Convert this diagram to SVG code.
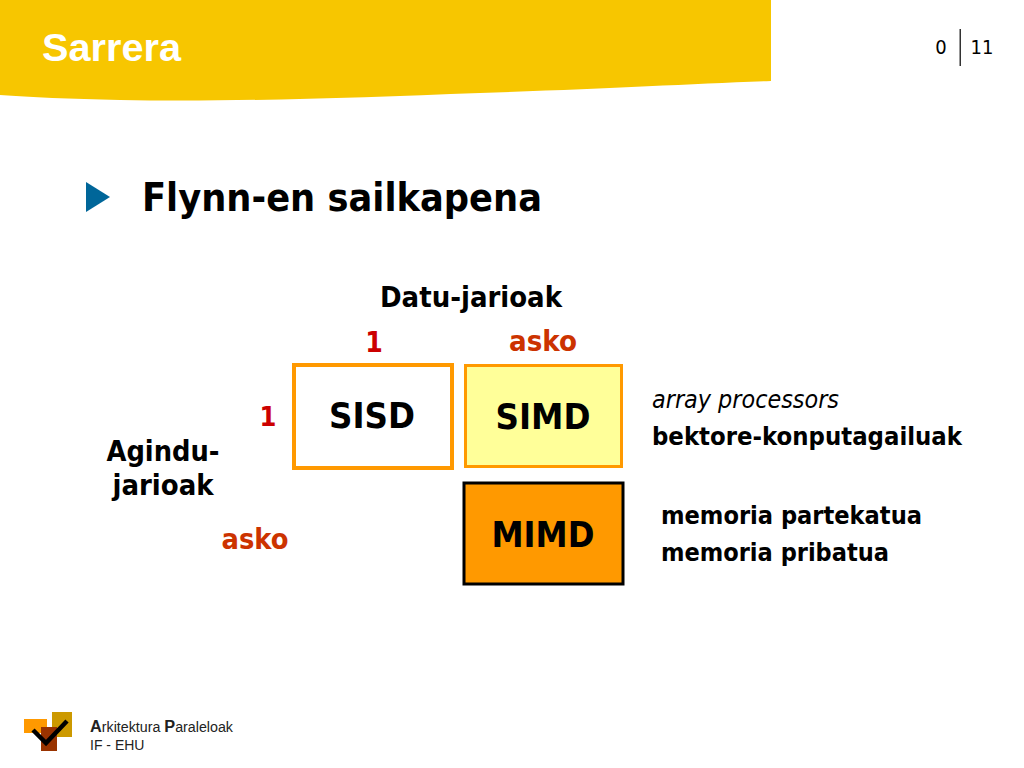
<svg xmlns="http://www.w3.org/2000/svg" width="1024" height="768" viewBox="0 0 1024 768">
<style>
.t{font-family:"DejaVu Sans Condensed","DejaVu Sans",sans-serif;font-stretch:condensed;fill:#000}
.b{font-weight:700}
.r{fill:#cc3300}
.d{fill:#cc0000}
.a{font-family:"Liberation Sans",Arial,sans-serif;fill:#222}
.m{text-anchor:middle}
</style>
<rect width="1024" height="768" fill="#fff"/>
<path d="M0 0H771V81C690 84 600 89 480 93C350 98 230 102 120 100C70 99 30 97 0 95Z" fill="#f7c600"/>
<text x="42" y="61" font-family="Liberation Sans,Arial,sans-serif" font-weight="700" font-size="38" fill="#fff" textLength="139" lengthAdjust="spacingAndGlyphs">Sarrera</text>
<g id="page">
<text class="t" x="941" y="54" font-size="20" text-anchor="middle">0</text>
<rect x="959.500" y="29" width="1.500" height="37" fill="#333"/>
<text class="t" x="982" y="54" font-size="20" text-anchor="middle">11</text>
</g>
<path d="M86 182L110 197L86 212Z" fill="#006699"/>
<text class="t b" x="142" y="211" font-size="39" textLength="400" lengthAdjust="spacingAndGlyphs">Flynn-en sailkapena</text>
<text class="t b m" x="471" y="307" font-size="29" textLength="182" lengthAdjust="spacingAndGlyphs">Datu-jarioak</text>
<text class="t b m d" x="374" y="352" font-size="28">1</text>
<text class="t b m r" x="543" y="351" font-size="29" textLength="68" lengthAdjust="spacingAndGlyphs">asko</text>
<text class="t b m d" x="268" y="426" font-size="27">1</text>
<text class="t b m" x="163" y="461" font-size="29" textLength="113" lengthAdjust="spacingAndGlyphs">Agindu-</text>
<text class="t b m" x="163" y="495" font-size="29" textLength="101" lengthAdjust="spacingAndGlyphs">jarioak</text>
<text class="t b m r" x="255" y="549" font-size="29" textLength="67" lengthAdjust="spacingAndGlyphs">asko</text>
<g id="sisd">
<rect x="294" y="365" width="158" height="103" fill="#fff" stroke="#ff9900" stroke-width="4"/>
<text class="t b m" x="372" y="428" font-size="35" textLength="86" lengthAdjust="spacingAndGlyphs">SISD</text>
</g>
<g id="simd">
<rect x="465.500" y="365.500" width="156" height="101" fill="#ffff99" stroke="#ff9900" stroke-width="3"/>
<text class="t b m" x="543" y="429" font-size="35" textLength="95" lengthAdjust="spacingAndGlyphs">SIMD</text>
</g>
<g id="mimd">
<rect x="464" y="483" width="159" height="101" fill="#ff9900" stroke="#000" stroke-width="3"/>
<text class="t b m" x="543" y="547" font-size="35" textLength="103" lengthAdjust="spacingAndGlyphs">MIMD</text>
</g>
<g id="connectors"></g>
<text class="t" x="652" y="408" font-size="25" font-style="italic" textLength="187" lengthAdjust="spacingAndGlyphs">array processors</text>
<text class="t b" x="652" y="445" font-size="25" textLength="310" lengthAdjust="spacingAndGlyphs">bektore-konputagailuak</text>
<text class="t b" x="661" y="524" font-size="25" textLength="261" lengthAdjust="spacingAndGlyphs">memoria partekatua</text>
<text class="t b" x="661" y="561" font-size="25" textLength="228" lengthAdjust="spacingAndGlyphs">memoria pribatua</text>
<g id="logo">
<rect x="52" y="712" width="20" height="25" fill="#cc9900"/>
<rect x="24" y="719" width="23" height="14" fill="#ff9900"/>
<rect x="41" y="727" width="16" height="24" fill="#993300"/>
<path d="M33 730L46 743L67 721" fill="none" stroke="#000" stroke-width="4.500"/>
</g>
<text class="a" x="90" y="732" font-size="14" textLength="143" lengthAdjust="spacingAndGlyphs"><tspan font-weight="700" font-size="16">A</tspan>rkitektura <tspan font-weight="700" font-size="16">P</tspan>araleloak</text>
<text class="a" x="90" y="750" font-size="14">IF - EHU</text>
</svg>
